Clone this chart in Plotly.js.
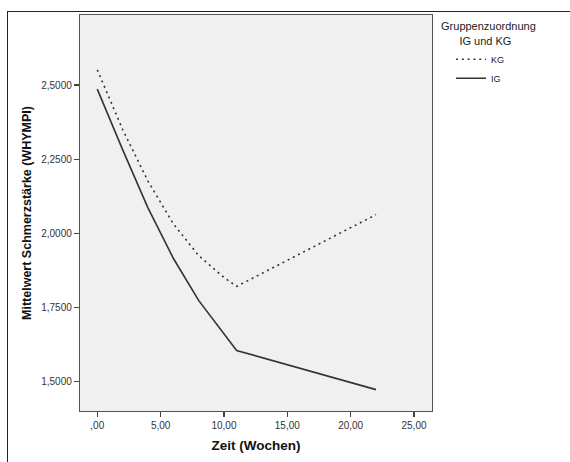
<!DOCTYPE html>
<html>
<head>
<meta charset="utf-8">
<script src="https://cdn.plot.ly/plotly-3.0.1.min.js"></script>
<style>
  html, body { margin: 0; padding: 0; background: #fff; }
  #wrap { position: relative; width: 570px; height: 462px; overflow: hidden; }
  #frame { position: absolute; left: 7px; top: 11px; right: -5px; bottom: -5px;
           border-left: 1.5px solid #222; border-top: 1.5px solid #222; pointer-events: none; }
  #chart { position: absolute; left: 0; top: 0; width: 570px; height: 462px; }
</style>
</head>
<body>
<div id="wrap">
  <div id="chart"></div>
  <div id="frame"></div>
</div>
<script>
// Data
const weeks = [0, 2, 4, 6, 8, 10, 11, 22];
const kgValues = [2.551, 2.350, 2.176, 2.032, 1.925, 1.851, 1.821, 2.063];
const igValues = [2.486, 2.282, 2.086, 1.916, 1.774, 1.662, 1.605, 1.473];
const seriesNames = ["KG", "IG"];
const legendTitle = "Gruppenzuordnung<br>\u00a0\u00a0\u00a0\u00a0\u00a0\u00a0IG und KG";

const xTickVals = [0, 5, 10, 15, 20, 25];
const xTickText = [",00", "5,00", "10,00", "15,00", "20,00", "25,00"];
const yTickVals = [1.5, 1.75, 2.0, 2.25, 2.5];
const yTickText = ["1,5000", "1,7500", "2,0000", "2,2500", "2,5000"];

const traces = [
  { x: weeks, y: kgValues, name: seriesNames[0], type: "scatter", mode: "lines",
    line: { color: "#333333", width: 1.6, dash: "2px,3.8px" } },
  { x: weeks, y: igValues, name: seriesNames[1], type: "scatter", mode: "lines",
    line: { color: "#333333", width: 1.6 } }
];

const font = "Liberation Sans, Arial, sans-serif";
const layout = {
  width: 570, height: 462,
  margin: { l: 80, r: 138, t: 15, b: 51 },
  paper_bgcolor: "#ffffff",
  plot_bgcolor: "#f0f0f0",
  font: { family: font, color: "#333333", size: 10 },
  showlegend: true,
  legend: {
    x: 1.02, xanchor: "left", y: 0.997, yanchor: "top",
    bgcolor: "rgba(0,0,0,0)",
    font: { family: font, size: 9, color: "#222" },
    title: { text: legendTitle, side: "top",
             font: { family: font, size: 11, color: "#222" } },
    itemwidth: 30, tracegroupgap: 0, indentation: 12
  },
  xaxis: {
    range: [-1.364, 26.42],
    tickvals: xTickVals, ticktext: xTickText,
    ticks: "outside", ticklen: 5, tickwidth: 1.2, tickcolor: "#444",
    showline: true, linecolor: "#555", linewidth: 1.2, mirror: true,
    showgrid: false, zeroline: false,
    tickfont: { family: font, size: 10, color: "#333" },
    title: { text: "Zeit (Wochen)", standoff: 10,
             font: { family: font, size: 13.5, color: "#111", weight: "bold" } }
  },
  yaxis: {
    range: [1.401, 2.736],
    tickvals: yTickVals, ticktext: yTickText,
    ticks: "outside", ticklen: 5, tickwidth: 1.2, tickcolor: "#444",
    showline: true, linecolor: "#555", linewidth: 1.2, mirror: true,
    showgrid: false, zeroline: false,
    tickfont: { family: font, size: 10, color: "#333" },
    title: { text: "Mittelwert Schmerzstärke (WHYMPI)", standoff: 6,
             font: { family: font, size: 12.5, color: "#111", weight: "bold" } }
  }
};

Plotly.newPlot("chart", traces, layout, { displayModeBar: false, staticPlot: true });
</script>
</body>
</html>
